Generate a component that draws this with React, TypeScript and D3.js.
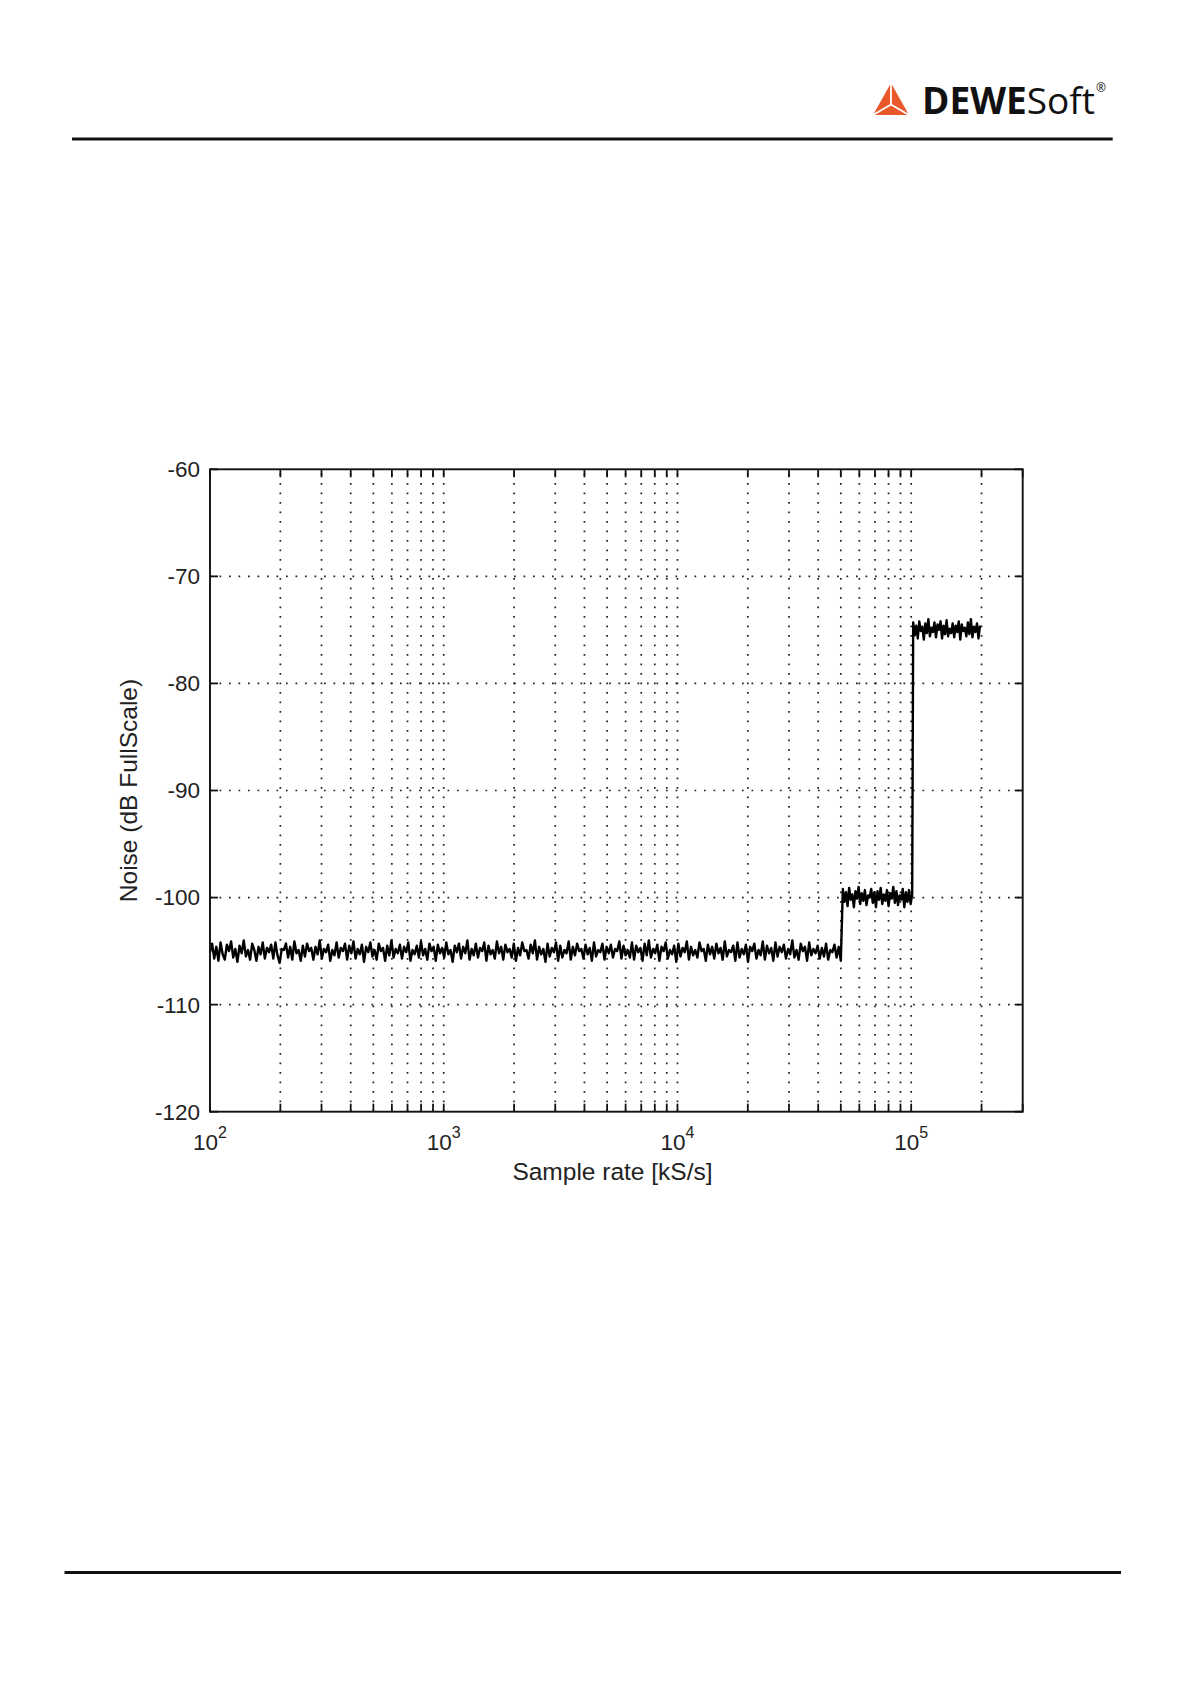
import React from "react";
import * as d3 from "d3";

// ---------- data ----------
const yTicks = [-120, -110, -100, -90, -80, -70, -60];
const xDecades = [100, 1000, 10000, 100000];
const xTickExponents = ["2", "3", "4", "5"];
const xDomain = [100, 300000];
const yDomain = [-120, -60];

// segments of the measured noise (sample-rate ranges, kS/s)
const segmentStart = [100, 51000, 102000];
const segmentEnd = [50000, 101000, 197000];

const noiseLow = [
  -105.1,-104.3,-105.7,-104.6,-105.9,-104.2,-105.3,-105.8,-104.4,-105.0,
  -104.1,-105.6,-104.8,-106.0,-104.5,-105.2,-104.0,-105.5,-104.9,-105.8,
  -104.3,-104.9,-105.9,-104.6,-105.3,-104.2,-105.7,-104.7,-105.1,-104.4,
  -105.7,-104.2,-105.4,-106.1,-104.8,-104.9,-104.3,-105.6,-104.6,-105.8,
  -104.1,-105.2,-104.9,-105.9,-104.5,-105.5,-104.3,-105.0,-104.7,-105.8,
  -104.6,-105.3,-104.0,-105.7,-104.8,-105.1,-104.4,-105.9,-104.9,-105.4,
  -104.2,-105.6,-104.7,-105.0,-104.3,-105.8,-104.5,-105.2,-104.1,-105.7,
  -104.8,-105.3,-104.4,-106.0,-104.6,-105.1,-104.2,-105.5,-104.9,-105.8,
  -104.3,-105.0,-104.7,-105.9,-104.5,-105.4,-104.0,-105.6,-104.8,-105.2,
  -104.4,-105.7,-104.6,-105.1,-104.2,-105.9,-104.9,-105.3,-104.5,-105.6,
  -104.1,-105.4,-104.8,-105.8,-104.3,-105.0,-104.6,-105.9,-104.4,-105.2,
  -104.7,-105.6,-104.2,-105.3,-104.9,-106.0,-104.5,-105.1,-104.3,-105.7,
  -104.6,-105.2,-104.0,-105.8,-104.8,-105.4,-104.3,-105.6,-104.7,-105.0,
  -104.2,-105.9,-104.5,-105.3,-104.9,-105.7,-104.1,-105.2,-104.6,-105.8,
  -104.4,-105.1,-104.8,-105.6,-104.3,-105.9,-104.7,-105.4,-104.2,-105.0,
  -104.9,-105.7,-104.4,-105.2,-104.0,-105.8,-104.6,-105.3,-104.8,-106.0,
  -104.3,-105.5,-104.7,-105.1,-104.2,-105.9,-104.5,-105.6,-104.9,-105.2,
  -104.1,-105.8,-104.6,-105.4,-104.3,-105.0,-104.8,-105.7,-104.4,-105.3,
  -104.7,-105.9,-104.2,-105.5,-104.9,-105.1,-104.3,-105.8,-104.6,-105.2,
  -104.4,-105.6,-104.8,-105.0,-104.1,-105.7,-104.5,-105.4,-104.9,-105.6,
  -104.2,-105.8,-104.5,-105.1,-104.7,-105.9,-104.3,-105.4,-104.0,-105.6,
  -104.8,-105.2,-104.4,-105.9,-104.6,-105.0,-104.2,-105.7,-104.9,-105.3,
  -104.5,-106.0,-104.3,-105.5,-104.7,-105.1,-104.1,-105.8,-104.6,-105.4,
  -104.9,-105.6,-104.2,-105.0,-104.8,-105.9,-104.4,-105.3,-104.6,-105.7,
  -104.3,-105.2,-104.7,-105.8,-104.1,-105.5,-104.9,-105.1,-104.5,-105.9,
  -104.2,-105.6,-104.8,-105.3,-104.4,-106.0,-104.6,-105.0,-104.3,-105.7,
  -104.9,-105.4,-104.1,-105.8,-104.5,-105.2,-104.7,-105.9,-104.2,-105.5,
  -104.6,-105.1,-104.4,-105.7,-104.8,-105.3,-104.0,-105.6,-104.9,-105.8,
  -104.3,-105.0,-104.6,-105.9,-104.2,-105.4,-104.8,-105.2,-104.5,-105.7,
  -104.7,-105.5,-104.3,-105.8,-104.9,-105.1,-104.4,-105.6,-104.6,-105.9,
];

const noiseMid = [
  -99.2,-100.4,-99.5,-100.8,-99.1,-100.2,-99.7,-100.9,-99.4,-100.1,
  -99.0,-100.6,-99.6,-100.3,-99.3,-100.7,-99.8,-100.0,-99.2,-100.5,
  -99.5,-100.9,-99.4,-100.2,-99.1,-100.6,-99.7,-100.3,-99.3,-100.8,
  -99.6,-100.1,-99.0,-100.5,-99.4,-100.7,-99.8,-100.2,-99.2,-100.9,
  -99.5,-100.4,-99.3,-100.6,-99.7,
];

const noiseHigh = [
  -74.3,-75.5,-74.6,-75.8,-74.2,-75.1,-74.7,-75.9,-74.4,-75.3,
  -74.0,-75.6,-74.8,-75.2,-74.3,-75.7,-74.5,-75.0,-74.2,-75.8,
  -74.6,-75.4,-74.1,-75.6,-74.9,-75.3,-74.4,-75.7,-74.6,-75.2,
  -74.2,-75.9,-74.5,-75.1,-74.8,-75.6,-74.3,-75.4,-74.0,-75.7,
  -74.7,-75.2,-74.4,-75.8,-74.6,
];

const noiseSegments = [noiseLow, noiseMid, noiseHigh];

// ---------- layout ----------
const W = 1192;
const H = 1686;
const plotLeft = 210;
const plotRight = 1022.7;
const plotTop = 469.3;
const plotBottom = 1111.7;

export default function App() {
  const x = d3.scaleLog().domain(xDomain).range([plotLeft, plotRight]);
  const y = d3.scaleLinear().domain(yDomain).range([plotBottom, plotTop]);

  const xGrid: number[] = [];
  xDecades.forEach((d) => {
    for (let k = 1; k <= 9; k++) {
      const v = d * k;
      if (v <= xDomain[1]) xGrid.push(v);
    }
  });

  const pts: [number, number][] = [];
  noiseSegments.forEach((vals, si) => {
    const l0 = Math.log10(segmentStart[si]);
    const l1 = Math.log10(segmentEnd[si]);
    vals.forEach((v, i) => {
      const xv = Math.pow(10, l0 + ((l1 - l0) * i) / (vals.length - 1));
      pts.push([xv, v]);
    });
  });
  const line = d3
    .line<[number, number]>()
    .x((d) => x(d[0]))
    .y((d) => y(d[1]));

  const gridStyle = {
    stroke: "#222",
    strokeWidth: 1.7,
    strokeDasharray: "1.7 7.8",
    fill: "none",
  } as const;
  const tickLen = 8;
  const font = "'Liberation Sans', Arial, Helvetica, sans-serif";

  const apex: [number, number] = [891, 83];
  const bl: [number, number] = [873, 115];
  const br: [number, number] = [909, 115];
  const cen: [number, number] = [891, 104.5];

  return (
    <div style={{ position: "absolute", left: 0, top: 0 }}>
      <svg width={W} height={H} style={{ display: "block", background: "#fff" }}>
        <rect x={0} y={0} width={W} height={H} fill="#fff" />

        {/* header logo */}
        <polygon points={[apex, bl, br].map((p) => p.join(",")).join(" ")} fill="#E8582B" />
        <line x1={cen[0]} y1={cen[1]} x2={bl[0]} y2={bl[1]} stroke="#fff" strokeWidth={1.8} />
        <line x1={cen[0]} y1={cen[1]} x2={br[0]} y2={br[1]} stroke="#fff" strokeWidth={1.8} />
        <line x1={cen[0]} y1={cen[1]} x2={apex[0]} y2={apex[1]} stroke="#fff" strokeWidth={1.8} />
        <text x={922} y={113.5} fontFamily="'Open Sans', 'Noto Sans', sans-serif" fontSize={37} fill="#111" textLength={173} lengthAdjust="spacingAndGlyphs">
          <tspan fontWeight={700}>DEWE</tspan>
          <tspan fontWeight={400}>Soft</tspan>
        </text>
        <text x={1096} y={92} fontFamily="'Open Sans', sans-serif" fontSize={12} fill="#111">®</text>

        {/* rules */}
        <line x1={72} x2={1112.7} y1={139} y2={139} stroke="#111" strokeWidth={3} />
        <line x1={64.5} x2={1121} y1={1572.6} y2={1572.6} stroke="#111" strokeWidth={3} />

        {/* grid */}
        {yTicks
          .filter((t) => t !== yDomain[0] && t !== yDomain[1])
          .map((t) => (
            <line key={"gy" + t} x1={plotLeft} x2={plotRight} y1={y(t)} y2={y(t)} style={gridStyle} />
          ))}
        {xGrid
          .filter((v) => v !== xDomain[0] && v < xDomain[1])
          .map((v) => (
            <line key={"gx" + v} x1={x(v)} x2={x(v)} y1={plotBottom} y2={plotTop} style={gridStyle} />
          ))}

        {/* ticks */}
        {yTicks.map((t) => (
          <g key={"ty" + t}>
            <line x1={plotLeft} x2={plotLeft + tickLen} y1={y(t)} y2={y(t)} stroke="#111" strokeWidth={1.8} />
            <line x1={plotRight} x2={plotRight - tickLen} y1={y(t)} y2={y(t)} stroke="#111" strokeWidth={1.8} />
          </g>
        ))}
        {xGrid.map((v) => (
          <g key={"tx" + v}>
            <line x1={x(v)} x2={x(v)} y1={plotBottom} y2={plotBottom - tickLen} stroke="#111" strokeWidth={1.8} />
            <line x1={x(v)} x2={x(v)} y1={plotTop} y2={plotTop + tickLen} stroke="#111" strokeWidth={1.8} />
          </g>
        ))}

        {/* noise line */}
        <path d={line(pts) || ""} fill="none" stroke="#000" strokeWidth={2.4} strokeLinejoin="round" />

        {/* axes box */}
        <rect
          x={plotLeft}
          y={plotTop}
          width={plotRight - plotLeft}
          height={plotBottom - plotTop}
          fill="none"
          stroke="#111"
          strokeWidth={1.9}
        />

        {/* y tick labels */}
        {yTicks.map((t) => (
          <text
            key={"ly" + t}
            x={plotLeft - 10}
            y={y(t)}
            dy="0.35em"
            textAnchor="end"
            fontFamily={font}
            fontSize={22.5}
            fill="#222"
          >
            {t}
          </text>
        ))}

        {/* x tick labels */}
        {xDecades.map((d, i) => (
          <text key={"lx" + d} x={x(d)} y={1150} textAnchor="middle" fontFamily={font} fontSize={22.5} fill="#222">
            <tspan>10</tspan>
            <tspan dy={-12} fontSize={16}>
              {xTickExponents[i]}
            </tspan>
          </text>
        ))}

        {/* axis labels */}
        <text x={612.5} y={1180} textAnchor="middle" fontFamily={font} fontSize={24.5} fill="#222">
          Sample rate [kS/s]
        </text>
        <text
          transform={`translate(137, ${(plotTop + plotBottom) / 2}) rotate(-90)`}
          textAnchor="middle"
          fontFamily={font}
          fontSize={24.5}
          fill="#222"
        >
          Noise (dB FullScale)
        </text>
      </svg>
    </div>
  );
}
